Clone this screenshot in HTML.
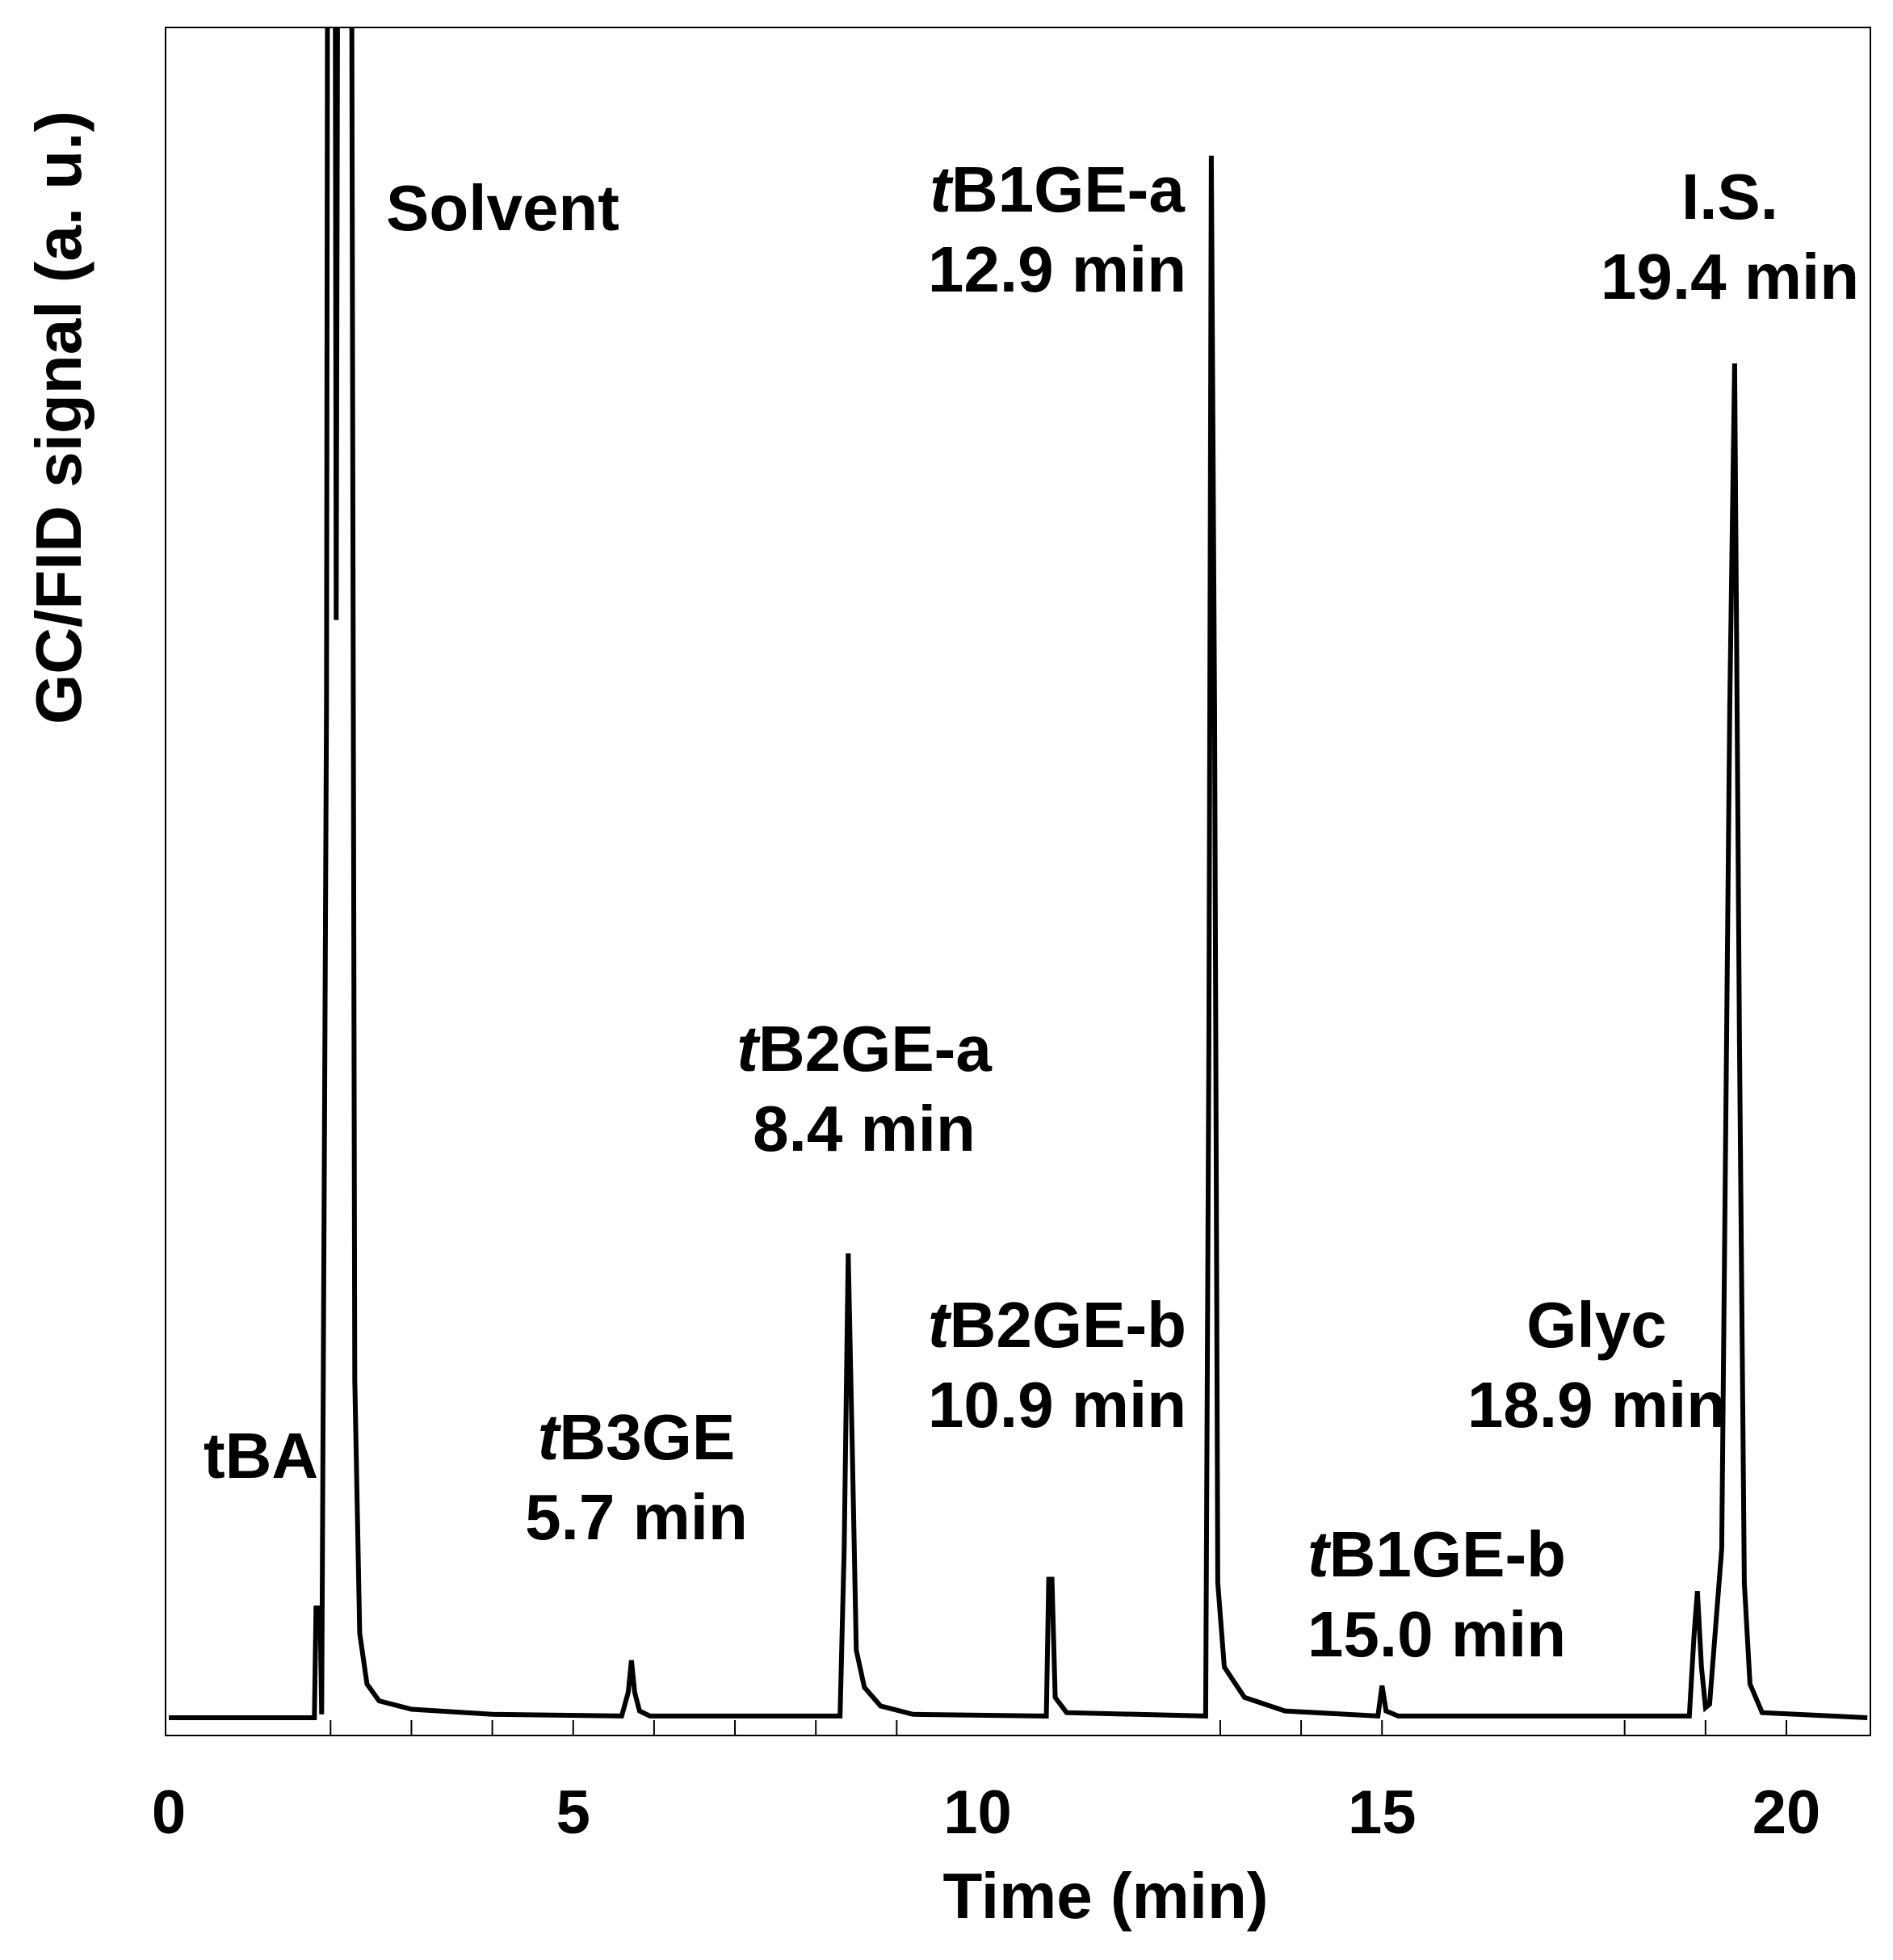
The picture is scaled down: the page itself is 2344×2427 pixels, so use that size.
<!DOCTYPE html>
<html><head><meta charset="utf-8"><style>
html,body{margin:0;padding:0;background:#fff;}
svg text{font-family:"Liberation Sans",Arial,sans-serif;font-weight:bold;fill:#000;}
</style></head><body>
<svg id="chart" width="2344" height="2422" viewBox="0 0 2344 2422" xmlns="http://www.w3.org/2000/svg">
<defs><clipPath id="plotclip"><rect x="205" y="34" width="2111" height="2115"/></clipPath></defs>
<rect x="205" y="34" width="2111" height="2115" fill="none" stroke="#000" stroke-width="2"/>
<g id="ticks"></g>
<g id="ticklabels" font-size="76" text-anchor="middle"></g>
<path id="trace" clip-path="url(#plotclip)" fill="none" stroke="#000" stroke-width="6" stroke-linejoin="miter"/>
<g font-size="80" text-anchor="middle">
<text x="478" y="285" text-anchor="start">Solvent</text>
<text x="252" y="1830" text-anchor="start">tBA</text>
<text x="788" y="1807"><tspan font-style="italic">t</tspan>B3GE</text>
<text x="788" y="1906">5.7 min</text>
<text x="1070" y="1326"><tspan font-style="italic">t</tspan>B2GE-a</text>
<text x="1070" y="1425">8.4 min</text>
<text x="1309" y="1668"><tspan font-style="italic">t</tspan>B2GE-b</text>
<text x="1309" y="1767">10.9 min</text>
<text x="1309" y="262"><tspan font-style="italic">t</tspan>B1GE-a</text>
<text x="1309" y="361">12.9 min</text>
<text x="1779" y="1952"><tspan font-style="italic">t</tspan>B1GE-b</text>
<text x="1779" y="2051">15.0 min</text>
<text x="1977" y="1668">Glyc</text>
<text x="1977" y="1767">18.9 min</text>
<text x="2142" y="271">I.S.</text>
<text x="2142" y="370">19.4 min</text>
</g>
<text x="1369" y="2375" font-size="80" text-anchor="middle">Time (min)</text>
<text transform="translate(100,517) rotate(-90)" font-size="80" text-anchor="middle">GC/FID signal (a. u.)</text>
</svg>
<script>
const times=[0,1.80,1.82,1.87,1.89,1.92,1.95,1.97,2.05,2.07,2.10,2.25,2.30,2.36,2.45,2.6,3.0,4.0,5.6,5.68,5.72,5.76,5.82,5.95,8.3,8.35,8.40,8.45,8.5,8.6,8.8,9.2,10.85,10.88,10.92,10.96,11.1,12.82,12.86,12.89,12.93,12.97,13.05,13.3,13.8,14.95,15.0,15.05,15.2,18.8,18.86,18.90,18.95,19.0,19.05,19.2,19.30,19.36,19.42,19.48,19.55,19.7,21];
const signal=[0,0,6.5,6.5,0.2,30,60,130,130,65,130,130,20,5,2,1.0,0.5,0.2,0.1,1.5,3.4,1.5,0.4,0.1,0.1,10,27.5,16,4,1.8,0.7,0.2,0.1,8.2,8.2,1.2,0.3,0.1,40,92.5,60,8,3,1.2,0.4,0.1,1.9,0.4,0.1,0.1,5,7.5,3,0.6,0.8,10,60,80.2,40,8,2,0.3,0];
const tickValues=[2,3,4,5,6,7,8,9,13,14,15,18,19,20];
const tickLabels=[0,5,10,15,20];
const X0=209,XS=100.15,Y0=2127,YS=20.91;
function xs(t){return X0+XS*t;}
function ys(v){return Y0-YS*v;}
const NS='http://www.w3.org/2000/svg';
let d='';
for(let i=0;i<times.length;i++){d+=(i?'L':'M')+xs(times[i]).toFixed(1)+' '+ys(signal[i]).toFixed(1);}
document.getElementById('trace').setAttribute('d',d);
const tg=document.getElementById('ticks');
tickValues.forEach(t=>{const l=document.createElementNS(NS,'line');


l.setAttribute('x1',xs(t));l.setAttribute('x2',xs(t));l.setAttribute('y1',2149);l.setAttribute('y2',2130);l.setAttribute('stroke','#000');l.setAttribute('stroke-width','2');tg.appendChild(l);});
const lg=document.getElementById('ticklabels');
tickLabels.forEach(t=>{const tx=document.createElementNS(NS,'text');


tx.setAttribute('x',xs(t));tx.setAttribute('y',2270);tx.textContent=t;lg.appendChild(tx);});
</script>
</body></html>
